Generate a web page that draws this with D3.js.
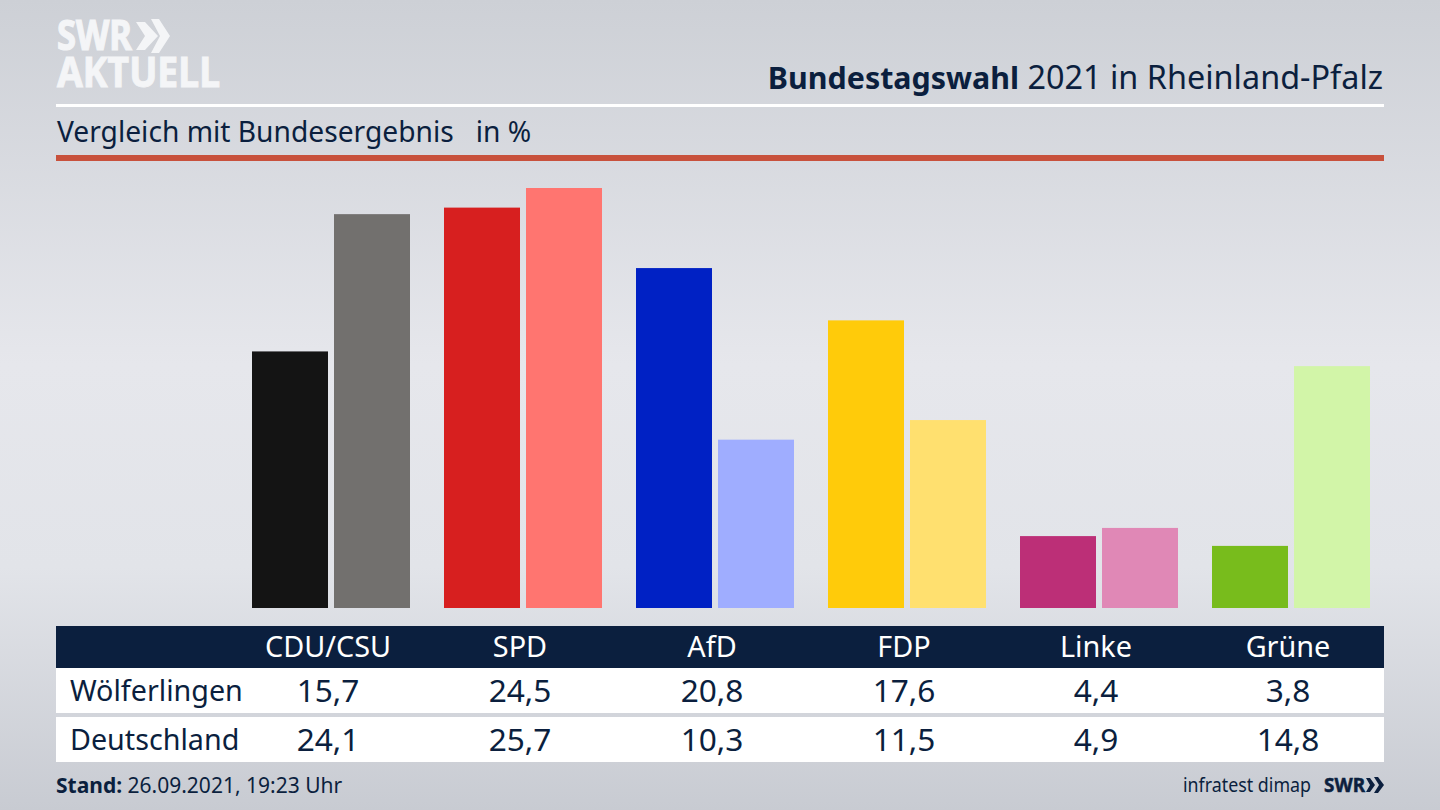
<!DOCTYPE html>
<html>
<head>
<meta charset="utf-8">
<title>Bundestagswahl 2021 in Rheinland-Pfalz</title>
<script src="https://cdnjs.cloudflare.com/ajax/libs/d3/7.8.5/d3.min.js"></script>
<style>
html, body { margin: 0; padding: 0; background: #d8dae0; overflow: hidden; }
svg { display: block; }
text { font-family: "Noto Sans", sans-serif; fill: #0b1f3e; }
</style>
</head>
<body>
<svg id="chart" width="1440" height="810"></svg>
<script>
// Data
const categories = ["CDU/CSU", "SPD", "AfD", "FDP", "Linke", "Grüne"];
const seriesNames = ["Wölferlingen", "Deutschland"];
const woelferlingen = [15.7, 24.5, 20.8, 17.6, 4.4, 3.8];
const deutschland = [24.1, 25.7, 10.3, 11.5, 4.9, 14.8];
const colorsLocal = ["#141414", "#d71f1f", "#0021c4", "#ffcb0a", "#bc2f77", "#78bc1c"];
const colorsFederal = ["#72706e", "#ff7570", "#9fadff", "#ffe06f", "#e088b6", "#d2f5a8"];

const svg = d3.select("#chart");
const fmt = v => d3.format(".1f")(v).replace(".", ",");
const navy = "#0b1f3e";

// background
const defs = svg.append("defs");
const grad = defs.append("linearGradient").attr("id", "bg").attr("x1", 0).attr("y1", 0).attr("x2", 0).attr("y2", 1);
grad.append("stop").attr("offset", "0%").attr("stop-color", "#cdd0d6");
grad.append("stop").attr("offset", "45%").attr("stop-color", "#e6e7ec");
grad.append("stop").attr("offset", "70%").attr("stop-color", "#e2e4e9");
grad.append("stop").attr("offset", "100%").attr("stop-color", "#c8cbd2");
svg.append("rect").attr("width", 1440).attr("height", 810).attr("fill", "url(#bg)");

// scales
const x = d3.scaleBand().domain(categories).range([252, 1404]);
const inner = d3.scaleBand().domain(seriesNames).range([0, 158]).paddingInner(6 / 82);
const y = d3.scaleLinear().domain([0, 25.7]).range([608, 188]);

// bars
const series = [
  { name: seriesNames[0], values: woelferlingen, colors: colorsLocal },
  { name: seriesNames[1], values: deutschland, colors: colorsFederal }
];
series.forEach(function (s) {
  svg.append("g").selectAll("rect").data(s.values).enter().append("rect")
    .attr("x", (d, i) => x(categories[i]) + inner(s.name))
    .attr("y", d => y(d))
    .attr("width", inner.bandwidth())
    .attr("height", d => y(0) - y(d))
    .attr("fill", (d, i) => s.colors[i]);
});

// header
const logoFont = "Liberation Sans Narrow, Liberation Sans";
const logo = svg.append("g").attr("fill", "#f4f5f7");
logo.append("text").attr("x", 57).attr("y", 50).text("SWR")
  .attr("font-family", logoFont).attr("font-weight", 700).attr("font-size", 41)
  .style("fill", "#f4f5f7").style("stroke", "#f4f5f7").style("stroke-width", 1.2)
  .attr("textLength", 75).attr("lengthAdjust", "spacingAndGlyphs");
logo.append("text").attr("x", 57).attr("y", 87).text("AKTUELL")
  .attr("font-family", logoFont).attr("font-weight", 700).attr("font-size", 41)
  .style("fill", "#f4f5f7").style("stroke", "#f4f5f7").style("stroke-width", 1)
  .attr("textLength", 163).attr("lengthAdjust", "spacingAndGlyphs");
logo.append("path").attr("d", "M136 22h9l13 14-13 14h-9l9-14z M151 19h8l11 17-11 17h-8l9-17z");

const title = svg.append("text").attr("x", 1383).attr("y", 89).attr("text-anchor", "end");
title.append("tspan").attr("font-weight", 700).attr("font-size", 30.4).text("Bundestagswahl");
title.append("tspan").attr("font-size", 32.4).text(" 2021 in Rheinland-Pfalz");

svg.append("rect").attr("x", 56).attr("y", 104).attr("width", 1328).attr("height", 3).attr("fill", "#fff");
svg.append("text").attr("x", 57).attr("y", 142).attr("font-size", 28.2).attr("xml:space", "preserve")
  .text("Vergleich mit Bundesergebnis   in %");
svg.append("rect").attr("x", 56).attr("y", 155).attr("width", 1328).attr("height", 6).attr("fill", "#c8513c");

// table
svg.append("rect").attr("x", 56).attr("y", 626).attr("width", 1328).attr("height", 42).attr("fill", navy);
svg.append("rect").attr("x", 56).attr("y", 668).attr("width", 1328).attr("height", 45).attr("fill", "#fff");
svg.append("rect").attr("x", 56).attr("y", 717).attr("width", 1328).attr("height", 45).attr("fill", "#fff");

const cx = d => x(d) + 76;
svg.append("g").selectAll("text").data(categories).enter().append("text")
  .attr("x", cx).attr("y", 657).attr("text-anchor", "middle").attr("font-size", 28.8)
  .style("fill", "#fff").text(d => d);

series.forEach(function (s, r) {
  const rowY = [702, 751][r];
  svg.append("text").attr("x", 70).attr("y", rowY - 1).attr("font-size", 28.7).text(s.name);
  svg.append("g").selectAll("text").data(s.values).enter().append("text")
    .attr("x", (d, i) => cx(categories[i])).attr("y", rowY).attr("text-anchor", "middle")
    .attr("font-size", 31.6).text(fmt);
});

// footer
const stand = svg.append("text").attr("x", 56).attr("y", 793).attr("font-size", 21);
stand.append("tspan").attr("font-weight", 700).text("Stand:");
stand.append("tspan").text(" 26.09.2021, 19:23 Uhr");
svg.append("text").attr("x", 1183).attr("y", 792).attr("font-size", 19).text("infratest dimap")
  .attr("textLength", 128).attr("lengthAdjust", "spacingAndGlyphs");
svg.append("text").attr("x", 1324).attr("y", 792).text("SWR")
  .attr("font-family", "Liberation Sans").attr("font-weight", 700).attr("font-size", 20)
  .style("stroke", navy).style("stroke-width", 0.5)
  .attr("textLength", 41).attr("lengthAdjust", "spacingAndGlyphs");
svg.append("path").attr("fill", navy).attr("d", "M1366 778h4l5 7-5 7h-4l4-7z M1374 777h4l6 8-6 8h-4l5-8z");
</script>
</body>
</html>
